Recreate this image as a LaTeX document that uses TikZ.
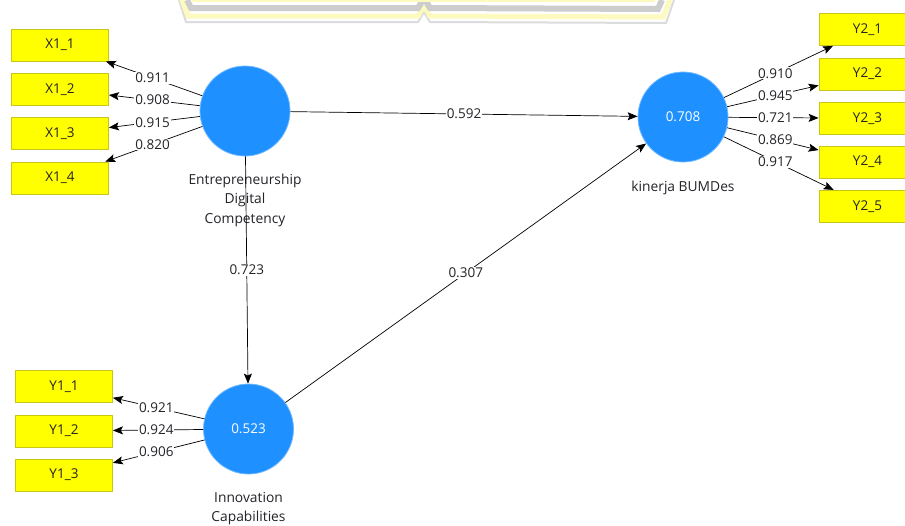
\documentclass[tikz,border=0pt]{standalone}
\usepackage{fontspec}
\setmainfont{Open Sans}
\usetikzlibrary{arrows.meta,calc}
\definecolor{lvblue}{RGB}{30,144,255}
\definecolor{lvring}{RGB}{110,185,255}
\definecolor{mvyellow}{RGB}{255,255,0}
\definecolor{mvborder}{RGB}{200,200,20}
\definecolor{txt}{RGB}{35,35,40}
\definecolor{wmyellow}{RGB}{252,250,190}
\definecolor{wmgray}{RGB}{205,205,205}
\tikzset{
  lv/.style={circle,fill=lvblue,draw=lvring,line width=0.8pt,minimum size=90pt,inner sep=0pt,text=white,font=\fontsize{13.5}{16}\selectfont},
  mv/.style={rectangle,fill=mvyellow,draw=mvborder,line width=0.8pt,minimum width=97pt,minimum height=32pt,inner sep=0pt,text=txt,font=\fontsize{13.5}{16}\selectfont},
  conn/.style={draw=black,line width=0.7pt,-{Stealth[length=10pt,width=8pt,inset=2pt]}},
  lbl/.style={fill=white,inner sep=1pt,text=txt,font=\fontsize{13.5}{16}\selectfont},
  lvcaption/.style={text=txt,align=center,font=\fontsize{13.8}{19.5}\selectfont}
}
\begin{document}
\begin{tikzpicture}[x=1pt,y=-1pt]
\useasboundingbox (0,0) rectangle (905,525);
\clip (0,0) rectangle (905,525);
\fill[white] (0,0) rectangle (905,525);
% faint watermark at top
\draw[wmgray!70,line width=2pt,line join=miter] (179,0)--(186,22)--(418,22)--(424,12)--(430,22)--(666,23)--(674,0);
\draw[wmyellow,line width=5pt] (182,0)--(188,16)--(418,16)--(424,6)--(430,16)--(663,17)--(670,0);
\draw[wmgray,line width=6pt] (187,0)--(191,8)--(418,8)--(424,-2)--(430,8)--(658,9)--(662,0);
\draw[wmyellow,line width=2pt] (192,1)--(655,1);
% latent variables
\node[lv] (edc) at (245,111) {};
\node[lv] (kin) at (683,117) {0.708};
\node[lv] (inn) at (248.5,429) {0.523};
\node[lvcaption,anchor=north] (edccap) at (245,170) {Entrepreneurship\\Digital\\Competency};
\node[lvcaption,anchor=north] (kincap) at (683,177) {kinerja BUMDes};
\node[lvcaption,anchor=north] (inncap) at (248.5,488.5) {Innovation\\Capabilities};
% indicators
\node[mv] (x11) at (60,45) {X1\_1};
\node[mv] (x12) at (60,89.3) {X1\_2};
\node[mv] (x13) at (60,133.5) {X1\_3};
\node[mv] (x14) at (60,178) {X1\_4};
\node[mv] (y11) at (64,386.5) {Y1\_1};
\node[mv] (y12) at (64,431) {Y1\_2};
\node[mv] (y13) at (64,475) {Y1\_3};
\node[mv] (y21) at (867.5,29.5) {Y2\_1};
\node[mv] (y22) at (867.5,74) {Y2\_2};
\node[mv] (y23) at (867.5,118.3) {Y2\_3};
\node[mv] (y24) at (867.5,162) {Y2\_4};
\node[mv] (y25) at (867.5,206.3) {Y2\_5};
% connectors
\draw[conn] (edc) -- (x11);
\draw[conn] (edc) -- (x12);
\draw[conn] (edc) -- (x13);
\draw[conn] (edc) -- (x14);
\draw[conn] (inn) -- (y11);
\draw[conn] (inn) -- (y12);
\draw[conn] (inn) -- (y13);
\draw[conn] (kin) -- (y21);
\draw[conn] (kin) -- (y22);
\draw[conn] (kin) -- (y23);
\draw[conn] (kin) -- (y24);
\draw[conn] (kin) -- (y25);
\draw[conn] (edc) -- (kin);
\draw[conn] (edc) -- (inn);
\draw[conn] (inn) -- (kin);
% labels
\node[lbl] at ($(edc)!0.5!(x11)$) {0.911};
\node[lbl] at ($(edc)!0.5!(x12)$) {0.908};
\node[lbl] at ($(edc)!0.5!(x13)$) {0.915};
\node[lbl] at ($(edc)!0.5!(x14)$) {0.820};
\node[lbl] at ($(inn)!0.5!(y11)$) {0.921};
\node[lbl] at ($(inn)!0.5!(y12)$) {0.924};
\node[lbl] at ($(inn)!0.5!(y13)$) {0.906};
\node[lbl] at ($(kin)!0.5!(y21)$) {0.910};
\node[lbl] at ($(kin)!0.5!(y22)$) {0.945};
\node[lbl] at ($(kin)!0.5!(y23)$) {0.721};
\node[lbl] at ($(kin)!0.5!(y24)$) {0.869};
\node[lbl] at ($(kin)!0.5!(y25)$) {0.917};
\node[lbl] at ($(edc)!0.5!(kin)$) {0.592};
\node[lbl] at ($(edc)!0.5!(inn)$) {0.723};
\node[lbl] at ($(inn)!0.5!(kin)$) {0.307};
\end{tikzpicture}
\end{document}
